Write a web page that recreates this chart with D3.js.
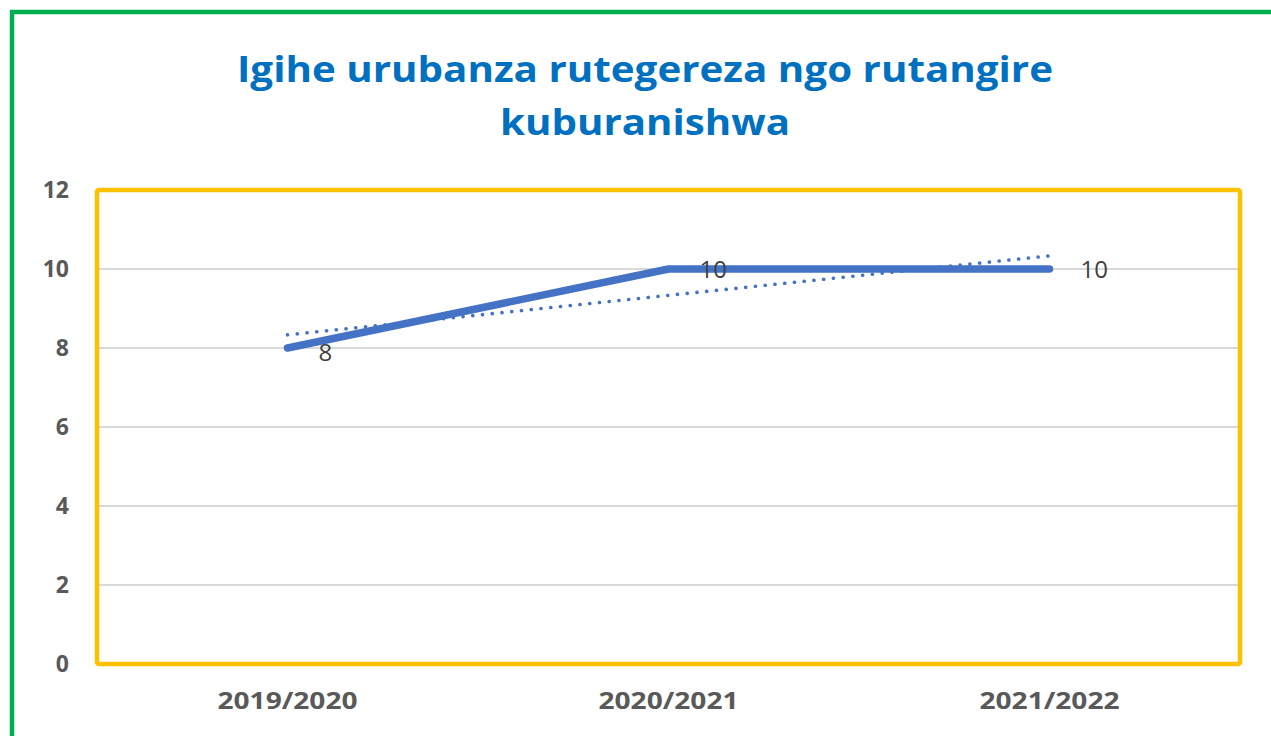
<!DOCTYPE html>
<html>
<head>
<meta charset="utf-8">
<script src="https://cdn.jsdelivr.net/npm/d3@7"></script>
<style>
  body { margin: 0; background: #fff; }
  svg { display: block; }
</style>
</head>
<body>
<div id="chart"></div>
<script>
const titleLines = ["Igihe urubanza rutegereza ngo rutangire", "kuburanishwa"];
const years = ["2019/2020", "2020/2021", "2021/2022"];
const values = [8, 10, 10];
const yTicks = [0, 2, 4, 6, 8, 10, 12];

const width = 1271, height = 736;
const plot = { left: 97, top: 190, right: 1240, bottom: 664 };

const svg = d3.select("#chart").append("svg")
    .attr("width", width)
    .attr("height", height);

// green frame (only top and left visible)
svg.append("path")
    .attr("d", `M12,${height + 5} V12 H${width + 5}`)
    .attr("fill", "none")
    .attr("stroke", "#00b050")
    .attr("stroke-width", 4.5);

// title
svg.selectAll(".title")
    .data(titleLines)
    .enter()
    .append("text")
    .attr("class", "title")
    .attr("x", 645)
    .attr("y", (d, i) => 82 + i * 53)
    .attr("text-anchor", "middle")
    .attr("font-family", "'Open Sans', sans-serif")
    .attr("font-weight", "bold")
    .attr("font-size", 36)
    .attr("fill", "#0070c0")
    .attr("textLength", (d, i) => i === 0 ? 816 : 290)
    .attr("lengthAdjust", "spacingAndGlyphs")
    .text(d => d);

const x = d3.scaleBand().domain(years).range([plot.left, plot.right]);
const y = d3.scaleLinear().domain([0, 12]).range([plot.bottom, plot.top]);

// gridlines
svg.append("g")
    .selectAll("line")
    .data(yTicks.filter(d => d > 0 && d < 12))
    .enter()
    .append("line")
    .attr("x1", plot.left)
    .attr("x2", plot.right)
    .attr("y1", d => y(d))
    .attr("y2", d => y(d))
    .attr("stroke", "#d9d9d9")
    .attr("stroke-width", 2);

// y axis labels
const yAxis = svg.append("g")
    .attr("transform", `translate(${plot.left - 28},0)`)
    .call(d3.axisLeft(y).tickValues(yTicks).tickSize(0).tickPadding(0));
yAxis.select(".domain").remove();
yAxis.selectAll("text")
    .attr("font-family", "'Open Sans', sans-serif")
    .attr("font-weight", "bold")
    .attr("font-size", 23)
    .attr("fill", "#595959");

// x axis labels
const xAxis = svg.append("g")
    .attr("transform", `translate(0,${plot.bottom})`)
    .call(d3.axisBottom(x).tickSize(0).tickPadding(28));
xAxis.select(".domain").remove();
xAxis.selectAll("text")
    .attr("font-family", "'Open Sans', sans-serif")
    .attr("font-weight", "bold")
    .attr("font-size", 24)
    .attr("fill", "#595959")
    .attr("textLength", 140)
    .attr("lengthAdjust", "spacingAndGlyphs");

// axis baseline
svg.append("line")
    .attr("x1", plot.left).attr("x2", plot.right)
    .attr("y1", y(0) + 1).attr("y2", y(0) + 1)
    .attr("stroke", "#d9d9d9")
    .attr("stroke-width", 2);

// yellow plot frame
svg.append("rect")
    .attr("x", plot.left)
    .attr("y", plot.top)
    .attr("width", plot.right - plot.left)
    .attr("height", plot.bottom - plot.top)
    .attr("fill", "none")
    .attr("stroke", "#ffc000")
    .attr("stroke-width", 4.5)
    .attr("rx", 2);

const cx = d => x(d) + x.bandwidth() / 2;
const pts = years.map((d, i) => ({ year: d, value: values[i], idx: i + 1 }));

// linear trend
const n = pts.length;
const mx = d3.mean(pts, d => d.idx), my = d3.mean(pts, d => d.value);
const slope = d3.sum(pts, d => (d.idx - mx) * (d.value - my)) / d3.sum(pts, d => (d.idx - mx) ** 2);
const icpt = my - slope * mx;

svg.append("line")
    .attr("x1", cx(years[0]))
    .attr("x2", cx(years[n - 1]))
    .attr("y1", y(icpt + slope * 1))
    .attr("y2", y(icpt + slope * n))
    .attr("stroke", "#4472c4")
    .attr("stroke-width", 3.6)
    .attr("stroke-linecap", "round")
    .attr("stroke-dasharray", "0.1 9.7");

// main line
svg.append("path")
    .datum(pts)
    .attr("d", d3.line().x(d => cx(d.year)).y(d => y(d.value)))
    .attr("fill", "none")
    .attr("stroke", "#4472c4")
    .attr("stroke-width", 7.5)
    .attr("stroke-linecap", "round")
    .attr("stroke-linejoin", "round");

// data labels
svg.selectAll(".lbl")
    .data(pts)
    .enter()
    .append("text")
    .attr("class", "lbl")
    .attr("x", d => cx(d.year) + 31)
    .attr("y", (d, i) => y(d.value) + (i === 0 ? 13 : 9))
    .attr("font-family", "'Open Sans', sans-serif")
    .attr("font-size", 24)
    .attr("fill", "#404040")
    .text(d => d.value);
</script>
</body>
</html>
